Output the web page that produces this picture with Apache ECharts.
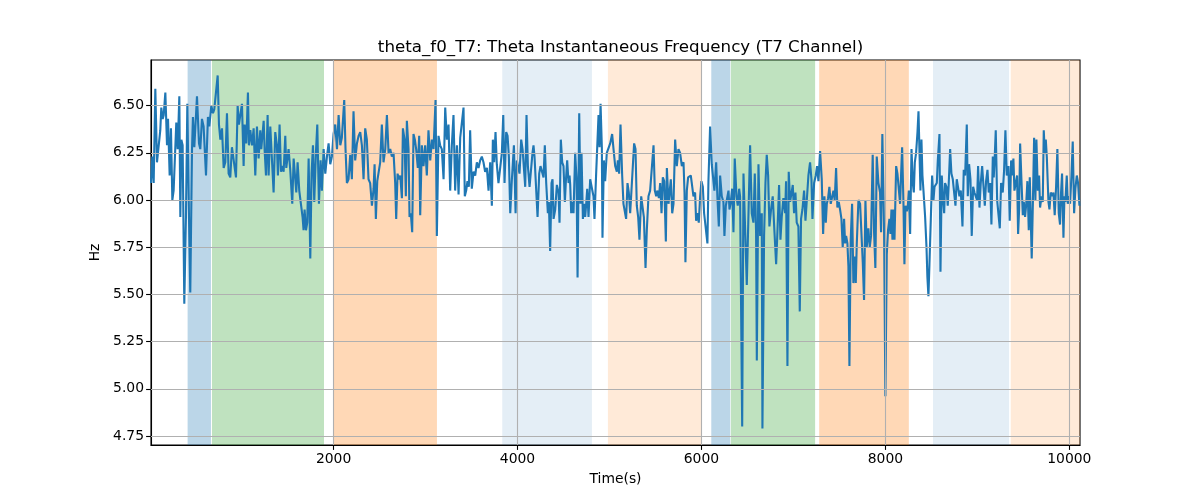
<!DOCTYPE html>
<html>
<head>
<meta charset="utf-8">
<script src="https://cdn.jsdelivr.net/npm/echarts@6/dist/echarts.min.js"></script>
<style>html,body{margin:0;padding:0;background:#fff}#c{width:1200px;height:500px}</style>
</head>
<body>
<div id="c"></div>
<script>
const titleText = "theta_f0_T7: Theta Instantaneous Frequency (T7 Channel)";
const xTicks = [2000, 4000, 6000, 8000, 10000];
const yTicks = [4.75, 5.00, 5.25, 5.50, 5.75, 6.00, 6.25, 6.50];
const xRange = [15, 10116];
const yRange = [4.702, 6.742];

// shaded phases: [start, end, kind]
const bandStarts = [413, 678, 2000, 3834, 4983, 6107, 6320, 7280, 8518, 9363];
const bandEnds   = [667, 1896, 3124, 4809, 6000, 6313, 7236, 8255, 9345, 10116];
const bandKinds  = ["blue", "green", "orange", "lightblue", "lightorange", "blue", "green", "orange", "lightblue", "lightorange"];

const times = [
15,29,44,62,80,98,116,127,142,153,171,189,200,218,232,247,261,279,290,305,323,334,345,359,377,395,410,428,442,461,471,486,515,537,551,569,587,613,624,634,649,671,689,703,714,740,754,769,787,805,823,841,859,877,895,913,939,957,971,986,1004,1022,1033,1051,1069,1080,1095,1113,1131,1149,1167,1185,1203,1214,1240,1250,1265,1283,1294,1312,1330,1348,1366,1384,1395,1413,1428,1442,1457,1475,1486,1511,1529,1551,1566,1584,1595,1609,1627,1645,1663,1674,1685,1700,1714,1729,1747,1761,1776,1790,1808,1823,1841,1859,1873,1892,1910,1928,1946,1964,1982,2000,2018,2037,2055,2073,
2090,2116,2130,2145,2163,2181,2199,2217,2235,2254,2272,2290,2308,2326,2344,2362,2380,2398,2417,2435,2446,2460,2475,2493,2507,2525,2543,2562,2580,2598,2616,2634,2652,2670,2681,2696,2710,2725,2743,2754,2772,2786,2797,2815,2826,2840,2855,2869,2884,2898,2916,2931,2942,2960,2978,2996,3014,3032,3051,3069,3087,3109,3123,3141,3159,3177,3196,3214,3232,3250,3268,3286,3304,3322,3341,3359,3377,3395,3413,3427,3442,3456,3471,3485,3503,3522,3540,3558,3576,3594,3612,3630,3648,3667,3685,3703,3721,3732,3746,3761,3775,3793,3811,
3830,3845,3859,3877,3892,3906,3921,3939,3961,3979,3993,4011,4022,4040,4055,4073,4084,4098,4113,4131,4145,4163,4174,4185,4200,4218,4236,4250,4268,4283,4297,4312,4330,4341,4355,4370,4381,4392,4410,4428,4446,4457,4471,4486,4500,4515,4526,4540,4555,4566,4573,4584,4598,4609,4627,4642,4653,4671,4685,4696,4711,4725,4736,4747,4758,4772,4790,4808,4826,4837,4855,4870,4881,4892,4903,4917,4924,4939,4953,4971,5008,5029,5044,5062,5080,5091,5105,5120,5138,5152,5167,5181,5196,5210,5225,5239,5254,5268,5283,5297,5312,5326,5345,5359,5374,5392,5406,5424,5442,5460,5479,5493,5508,5522,5537,5551,5566,5580,5595,5613,5624,5642,5660,5667,5682,5696,5714,5732,5750,5768,5787,5805,5816,5826,5841,5855,5870,5884,5895,5913,5931,5942,5957,5971,5986,
6000,6015,6029,6047,6065,6076,6094,6112,6131,6141,6160,6174,6189,6203,6221,6239,6250,6265,6279,6294,6305,6319,6334,6348,6362,6381,6395,6410,6420,6443,6457,6475,6493,6511,6529,6547,6565,6580,6594,6602,6620,6638,6656,6663,6681,6696,6710,6725,6739,6757,6775,6794,6812,6826,6844,6859,6873,6891,6910,6920,6935,6949,6964,6978,6993,7007,7022,7036,7054,7069,7083,7098,7116,7131,7145,7163,7181,7196,7207,7225,7243,7257,7272,7290,7308,7323,7337,7352,7363,7377,7391,7406,7420,7435,7449,7464,7478,7493,7507,7522,7536,7551,7562,7573,7587,7598,7609,7623,7638,7652,7667,7678,7689,7707,7725,7739,7754,7768,7783,7797,7815,7830,7844,7862,7877,7891,7906,7924,7942,7953,7967,7986,8000,8015,8029,8044,
8055,8066,8077,8088,8099,8117,8131,8146,8160,8171,8182,8197,8207,8218,8233,8244,8255,8269,8284,8298,8309,8320,8334,8349,8360,8371,8381,8392,8403,8414,8432,8447,8457,8468,8479,8494,8508,8523,8534,8544,8559,8570,8588,8599,8613,8628,8639,8649,8664,8678,8689,8704,8718,8733,8747,8762,8776,8791,8805,8820,8838,8852,8867,8885,8896,8910,8925,8939,8954,8968,8983,8997,9008,9023,9037,9052,9066,9081,9095,9110,9124,9139,9153,9168,9178,9189,9200,9215,9229,9244,9258,9276,9291,9305,9320,9338,9352,9367,9378,9392,9403,9418,9432,9443,9454,9465,9479,9494,9505,9519,9530,9544,9559,9570,9581,9591,9606,9617,9631,9642,9657,9671,9682,9697,9711,9722,9733,9744,9755,9773,9784,9798,9813,9827,9841,9856,9870,9885,9899,9910,9921,9936,9947,9957,9972,9983,9994,10008,10023,10037,10052,10066,10081,10095,10110
];

const hz = [
6.09,6.23,6.09,6.59,6.20,6.21,6.37,6.49,6.43,6.45,6.57,6.29,6.43,6.13,6.38,6.00,6.05,6.05,6.41,6.27,6.55,5.91,6.32,6.29,5.45,5.91,6.51,5.91,5.51,6.27,6.44,6.28,6.55,6.30,6.27,6.43,6.39,6.13,6.12,6.44,6.39,6.50,6.46,6.48,6.47,6.66,6.40,6.32,6.38,6.17,6.20,6.46,6.14,6.12,6.28,6.27,6.12,6.50,6.40,6.45,6.51,6.18,6.40,6.30,6.57,6.29,6.37,6.29,6.38,6.13,6.39,6.22,6.37,6.27,6.42,6.27,6.13,6.45,6.13,6.39,6.38,6.04,6.36,6.29,6.13,6.40,6.15,6.18,6.15,6.34,6.17,6.27,6.16,5.98,6.22,6.21,6.04,6.20,6.05,5.98,5.91,5.84,5.95,5.84,5.88,6.22,5.69,6.14,6.29,5.99,6.25,6.40,5.98,6.21,6.05,6.27,6.14,6.23,6.30,6.19,6.23,6.35,6.40,6.27,6.45,6.29,
6.33,6.53,6.27,6.09,6.11,6.24,6.11,6.47,6.21,6.30,6.34,6.36,6.29,6.11,6.38,6.32,6.11,6.09,5.97,6.06,6.19,5.90,6.10,6.09,6.20,6.40,6.20,6.27,6.45,6.25,6.27,6.23,6.25,6.09,5.90,6.14,6.11,6.13,6.01,6.38,6.32,6.02,6.42,6.27,5.91,5.93,5.83,6.35,6.32,6.27,6.17,6.34,5.92,6.29,6.18,6.29,6.13,6.37,6.21,6.32,6.27,6.53,5.81,6.34,6.29,6.27,6.11,6.49,6.32,6.40,6.05,6.29,6.45,6.05,6.29,6.03,6.33,6.34,6.49,6.02,6.05,6.10,6.07,6.37,6.06,6.15,6.13,6.20,6.17,6.21,6.23,6.20,6.15,6.17,6.05,6.20,5.97,6.32,6.20,6.36,6.19,6.09,6.10,
6.25,6.45,6.09,6.36,6.34,6.23,5.93,6.11,6.29,5.93,6.21,6.20,6.14,6.32,6.27,6.27,6.07,6.45,6.18,6.07,6.06,6.25,6.29,6.23,6.24,5.91,6.14,6.18,6.19,6.12,6.29,6.09,5.93,5.99,5.73,6.09,6.11,5.90,5.95,6.08,6.04,5.88,6.32,6.20,6.18,5.99,6.10,6.21,6.09,6.13,6.08,5.93,5.99,5.93,6.25,6.11,5.59,6.46,5.98,6.25,5.90,5.98,5.91,5.98,6.06,5.91,6.11,6.12,6.02,5.90,6.14,6.14,6.45,6.28,6.51,6.28,5.80,6.21,6.10,6.25,6.30,6.35,6.27,6.18,6.15,6.21,6.14,6.40,6.13,5.98,5.99,5.90,6.09,6.04,5.93,6.05,6.18,6.30,6.27,5.97,5.91,5.79,6.02,6.03,5.91,5.64,5.84,6.02,6.05,6.04,6.29,6.05,6.02,6.05,6.01,6.09,5.93,6.12,6.10,5.78,6.17,5.98,5.97,6.11,5.93,5.98,6.32,6.18,6.27,6.25,6.18,6.20,6.04,5.67,6.05,6.12,6.11,6.13,6.09,6.02,6.04,5.89,5.93,5.88,6.02,
6.10,6.07,5.93,5.92,5.77,6.10,6.39,6.19,6.18,6.05,6.20,6.01,5.86,6.13,6.02,5.99,5.81,5.97,5.97,6.05,5.95,5.99,6.06,5.83,6.22,6.02,5.97,6.06,6.02,4.80,6.14,6.14,5.55,5.55,6.29,5.93,5.88,6.14,5.83,5.15,6.19,5.81,5.93,4.79,5.81,6.09,6.24,6.13,5.86,5.95,6.02,5.83,5.66,5.83,6.08,5.79,5.91,6.01,5.93,6.10,5.12,6.15,5.99,5.99,6.08,5.93,6.04,5.88,5.86,5.41,5.90,5.95,6.05,5.89,5.90,6.13,6.20,6.11,5.90,6.09,6.13,6.18,6.10,6.26,6.11,5.82,6.02,5.88,5.98,6.01,6.07,5.98,5.97,6.05,6.00,6.17,5.96,5.99,5.95,5.90,5.75,5.90,5.77,5.81,5.77,5.65,5.12,5.79,5.98,5.56,5.70,5.56,5.77,6.00,5.98,5.99,5.67,5.47,6.00,5.75,5.85,5.75,5.81,6.24,5.83,5.64,6.23,6.09,6.04,5.83,6.35,5.83,4.96,5.71,5.84,5.90,
5.82,5.95,5.79,5.95,5.79,6.18,6.14,6.13,5.98,6.14,6.28,5.97,5.66,5.97,5.94,5.97,6.05,5.82,6.27,6.09,6.04,6.20,6.25,6.36,6.47,6.25,6.05,6.32,6.13,6.05,5.91,5.75,5.59,5.49,5.66,5.90,6.13,6.00,6.07,6.06,6.09,6.21,6.35,5.62,6.13,6.00,5.93,6.09,6.07,5.97,6.09,6.27,6.14,6.11,6.12,5.97,6.11,6.11,6.02,6.05,5.86,6.16,6.13,6.40,6.02,6.19,6.11,5.81,6.07,6.04,6.04,6.00,6.18,5.96,6.09,6.18,6.18,5.97,6.10,6.16,6.04,6.09,5.87,6.23,6.12,6.23,6.37,6.00,6.01,5.85,6.09,6.04,6.16,6.37,6.13,6.18,5.89,6.21,6.13,6.22,6.05,6.09,6.13,5.82,5.95,6.30,6.11,5.92,5.99,5.91,5.97,6.10,5.84,6.12,6.12,5.69,6.04,6.33,6.00,6.32,6.05,6.13,5.96,6.02,5.99,6.37,6.25,6.32,6.23,5.99,5.95,6.04,6.02,6.04,5.92,6.07,6.27,5.93,5.87,6.04,6.14,5.80,6.02,5.99,6.13,5.98,6.02,5.98,6.13,6.31,5.93,6.06,6.13,6.09,5.97
];

const bandColors = {
  blue: "rgba(31,119,180,0.3)",
  green: "rgba(44,160,44,0.3)",
  orange: "rgba(255,127,14,0.3)",
  lightblue: "rgba(31,119,180,0.12)",
  lightorange: "rgba(255,127,14,0.16)"
};

const lineData = times.map((t, i) => [t, hz[i]]);
const areas = bandStarts.map((s, i) => [
  { xAxis: s, itemStyle: { color: bandColors[bandKinds[i]] } },
  { xAxis: bandEnds[i] }
]);
const gridColor = "#b0b0b0";
const gridLines = xTicks.map(v => ({ xAxis: v })).concat(yTicks.map(v => ({ yAxis: v })));

const chart = echarts.init(document.getElementById("c"), null, { renderer: "canvas" });
const font = "DejaVu Sans";
chart.setOption({
  animation: false,
  backgroundColor: "#fff",
  title: {
    text: titleText,
    left: 615.5,
    top: 34,
    textAlign: "center",
    textStyle: { fontFamily: font, fontSize: 16.7, fontWeight: "normal", color: "#000" }
  },
  grid: { left: 151, right: 120, top: 60, bottom: 55, show: true, borderColor: "#000", borderWidth: 1.1, containLabel: false },
  xAxis: {
    type: "value",
    min: xRange[0], max: xRange[1],
    name: "Time(s)",
    nameLocation: "middle",
    nameGap: 27,
    nameTextStyle: { fontFamily: font, fontSize: 13.9, color: "#000" },
    axisLine: { show: true, lineStyle: { color: "#000", width: 1.1 } },
    axisTick: { show: true, customValues: xTicks, length: 4.9, lineStyle: { color: "#000", width: 1.1 } },
    axisLabel: { customValues: xTicks, fontFamily: font, fontSize: 13.9, color: "#000", margin: 7, formatter: v => String(Math.round(v)) },
    splitLine: { show: false }
  },
  yAxis: {
    type: "value",
    min: yRange[0], max: yRange[1],
    name: "Hz",
    nameLocation: "middle",
    nameGap: 47,
    nameRotate: 90,
    nameTextStyle: { fontFamily: font, fontSize: 13.9, color: "#000" },
    axisLine: { show: true, lineStyle: { color: "#000", width: 1.1 } },
    axisTick: { show: true, customValues: yTicks, length: 4.9, lineStyle: { color: "#000", width: 1.1 } },
    axisLabel: { customValues: yTicks, fontFamily: font, fontSize: 13.9, color: "#000", margin: 7, formatter: v => v.toFixed(2) },
    splitLine: { show: false }
  },
  series: [
    {
      type: "line", data: [], z: 1, silent: true,
      markArea: { silent: true, data: areas }
    },
    {
      type: "line", data: [], z: 2, silent: true,
      markLine: { silent: true, symbol: "none", label: { show: false },
        lineStyle: { color: gridColor, width: 1.1, type: "solid" }, data: gridLines }
    },
    {
      type: "line", data: lineData, z: 3,
      showSymbol: false, symbol: "none",
      lineStyle: { color: "#1f77b4", width: 2.1 },
      itemStyle: { color: "#1f77b4" }
    }
  ]
});
</script>
</body>
</html>
